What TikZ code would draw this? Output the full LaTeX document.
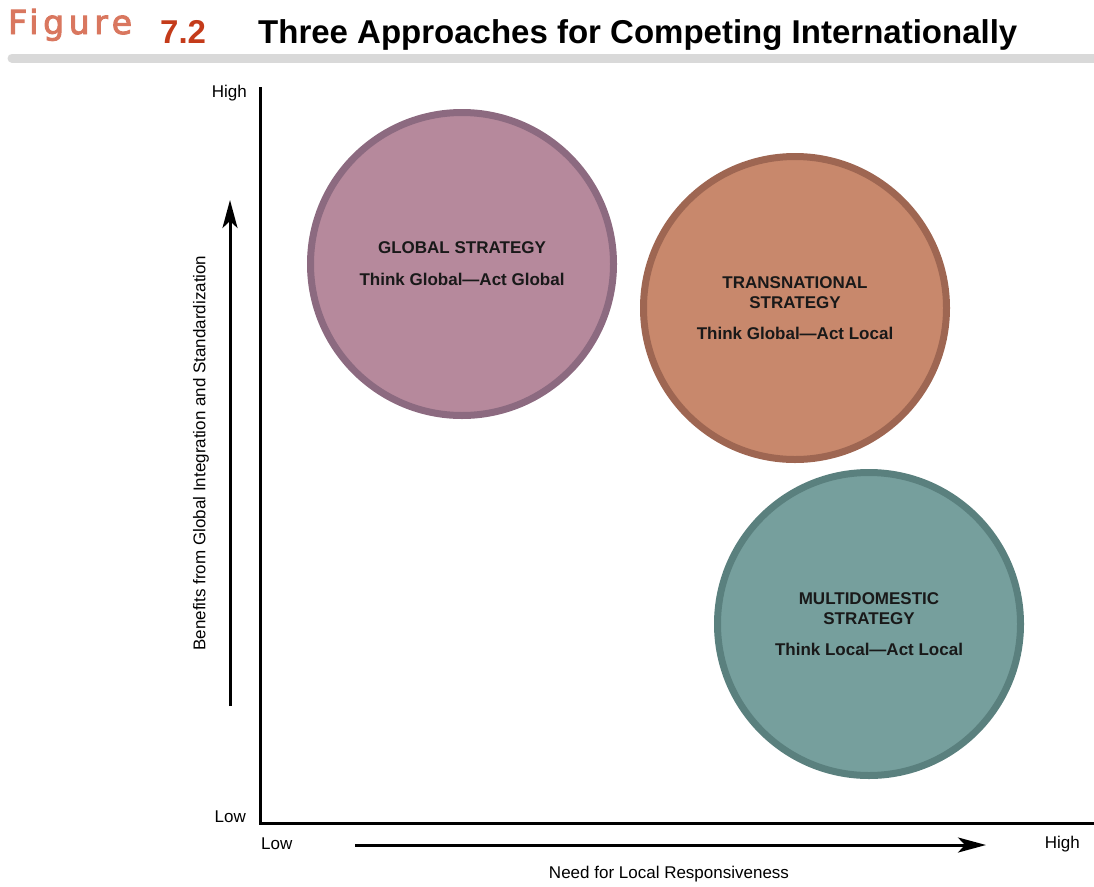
\documentclass[tikz,border=0pt]{standalone}
\usepackage{fontspec}
\setmainfont{Liberation Sans}
\newfontfamily\figfont[LetterSpace=14, FakeBold=3]{DejaVu Sans}
\usepackage{tikz}
\usetikzlibrary{arrows.meta}
\definecolor{figcol}{HTML}{D9775F}
\definecolor{numcol}{HTML}{C43B1A}
\definecolor{barcol}{HTML}{D9D9D9}
\definecolor{globfill}{HTML}{B6899C}
\definecolor{globline}{HTML}{8C6A80}
\definecolor{transfill}{HTML}{C8886C}
\definecolor{transline}{HTML}{9E6652}
\definecolor{multifill}{HTML}{769F9D}
\definecolor{multiline}{HTML}{5A807E}
\tikzset{
  strat/.style={circle, line width=7pt, inner sep=0pt, minimum size=303pt,
    align=center, text=black!90, font=\fontsize{17}{20}\selectfont\bfseries},
  axlab/.style={inner sep=0pt, font=\fontsize{17}{20}\selectfont},
  bigarrow/.style={black, line width=3pt, -{Stealth[length=28pt,width=15pt,inset=7pt]}},
}

\begin{document}
\begin{tikzpicture}[x=1pt,y=-1pt]
\useasboundingbox (0,0) rectangle (1094,886);
% heading
\node[anchor=base west, inner sep=0, text=figcol, font=\figfont\fontsize{33}{36}\selectfont] (fig) at (8,34) {Figure};
\node[anchor=base west, inner sep=0, text=numcol, font=\fontsize{33}{38}\selectfont\bfseries] (num) at (160,43) {7.2};
\node[anchor=base west, inner sep=0, font=\fontsize{33}{38}\selectfont\bfseries] (title) at (258,43) {Three Approaches for Competing Internationally};
\draw[barcol, line width=9pt, line cap=round] (12,58)--(1094,58);

% axes
\coordinate (ytop) at (260,87);
\coordinate (orig) at (260,823);
\coordinate (xend) at (1094,823);
\draw[black, line width=3pt] (ytop)--(orig)--(xend);
\coordinate (ua) at (230,706);
\coordinate (ub) at (230,200);
\coordinate (ra) at (355,845);
\coordinate (rb) at (986,845);
\draw[bigarrow] (ua)--(ub);
\draw[bigarrow] (ra)--(rb);

\node[axlab, anchor=east] (yhigh) at (247,93) {High};
\node[axlab, anchor=east] (ylow) at (246,817) {Low};
\node[axlab, anchor=west] (xlow) at (261,844) {Low};
\node[axlab, anchor=east] (xhigh) at (1080,844) {High};
\node[axlab] (xname) at (669,874) {Need for Local Responsiveness};
\node[axlab, rotate=90] (yname) at (201,453) {Benefits from Global Integration and Standardization};

% strategies
\node[strat, fill=globfill, draw=globline] (global) at (462,264)
  {GLOBAL STRATEGY\\[12pt]Think Global---Act Global};
\node[strat, fill=transfill, draw=transline] (trans) at (795,308)
  {TRANSNATIONAL\\STRATEGY\\[11pt]Think Global---Act Local};
\node[strat, fill=multifill, draw=multiline] (multi) at (869,624)
  {MULTIDOMESTIC\\STRATEGY\\[11pt]Think Local---Act Local};
\end{tikzpicture}
\end{document}
